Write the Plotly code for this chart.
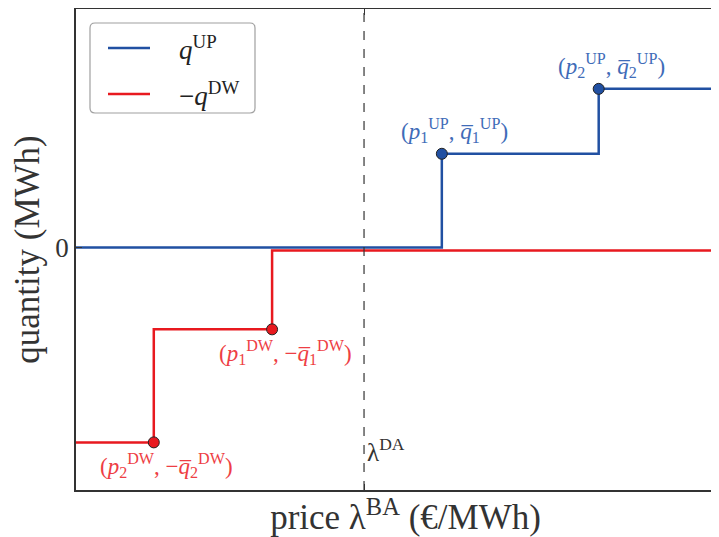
import plotly.graph_objects as go

# ---- data ----
x_range = [0.0, 10.25]
y_range = [-5.04, 4.96]
lambda_da = 4.48
prices_up = [5.69, 8.13]        # p1UP, p2UP
quantities_up = [1.95, 3.30]    # q1UP, q2UP
prices_dw = [3.05, 1.21]        # p1DW, p2DW
quantities_dw = [1.70, 4.05]    # q1DW, q2DW
dw_zero = -0.06
series_names = ["<i>q</i><sup>UP</sup>", "−<i>q</i><sup>DW</sup>"]
labels_up = ["(<i>p</i><sub>1</sub><sup>UP</sup>, <i>q̅</i><sub>1</sub><sup>UP</sup>)",
             "(<i>p</i><sub>2</sub><sup>UP</sup>, <i>q̅</i><sub>2</sub><sup>UP</sup>)"]
labels_dw = ["(<i>p</i><sub>1</sub><sup>DW</sup>, −<i>q̅</i><sub>1</sub><sup>DW</sup>)",
             "(<i>p</i><sub>2</sub><sup>DW</sup>, −<i>q̅</i><sub>2</sub><sup>DW</sup>)"]

BLUE = "#2150a2"
BLUE_T = "#3f6cb8"
RED = "#e8191f"
RED_T = "#ee3e44"
AX = "#333333"
FONT = "Liberation Serif"

fig = go.Figure()

# step curves
fig.add_trace(go.Scatter(
    x=[x_range[0], prices_up[0], prices_up[1], x_range[1]],
    y=[0, quantities_up[0], quantities_up[1], quantities_up[1]],
    mode="lines", line=dict(color=BLUE, width=2.5, shape="hv"),
    name=series_names[0], showlegend=False))
fig.add_trace(go.Scatter(
    x=[x_range[0], prices_dw[1], prices_dw[0], x_range[1]],
    y=[-quantities_dw[1], -quantities_dw[0], dw_zero, dw_zero],
    mode="lines", line=dict(color=RED, width=2.5, shape="hv"),
    name=series_names[1], showlegend=False))

# markers
fig.add_trace(go.Scatter(x=prices_up, y=quantities_up, mode="markers",
                         marker=dict(color=BLUE, size=11, line=dict(color="#222", width=1)),
                         showlegend=False))
fig.add_trace(go.Scatter(x=prices_dw, y=[-q for q in quantities_dw], mode="markers",
                         marker=dict(color=RED, size=11, line=dict(color="#222", width=1)),
                         showlegend=False))

# lambda DA line
fig.add_shape(type="line", x0=lambda_da, x1=lambda_da, y0=0, y1=1, yref="paper",
              line=dict(color=AX, width=1.2, dash="dash"))
fig.add_annotation(x=lambda_da, y=y_range[0], text="λ<sup>DA</sup>", showarrow=False,
                   xanchor="left", yanchor="bottom", xshift=1, yshift=22,
                   font=dict(family=FONT, size=25, color=AX))

for px, q, t in zip(prices_up, quantities_up, labels_up):
    fig.add_annotation(x=px, y=q, text=t, showarrow=False, xanchor="center",
                       yanchor="bottom", xshift=13, yshift=6,
                       font=dict(family=FONT, size=23, color=BLUE_T))
for px, q, t in zip(prices_dw, quantities_dw, labels_dw):
    fig.add_annotation(x=px, y=-q, text=t, showarrow=False, xanchor="center",
                       yanchor="top", xshift=13, yshift=-6,
                       font=dict(family=FONT, size=23, color=RED_T))

# ---- legend box (drawn in pixels from the plot's top-left corner) ----
r = 5
x0, x1, y0, y1 = 14, 179, -104, -14
path = (f"M{x0+r},{y0} L{x1-r},{y0} Q{x1},{y0} {x1},{y0+r} L{x1},{y1-r} "
        f"Q{x1},{y1} {x1-r},{y1} L{x0+r},{y1} Q{x0},{y1} {x0},{y1-r} "
        f"L{x0},{y0+r} Q{x0},{y0} {x0+r},{y0} Z")
fig.add_shape(type="path", path=path, xref="paper", yref="paper",
              xsizemode="pixel", ysizemode="pixel", xanchor=0, yanchor=1,
              fillcolor="white", line=dict(color="#a0a0a0", width=1.2), layer="above")
for color, dy, name in zip([BLUE, RED], [-39, -85], series_names):
    fig.add_shape(type="line", xref="paper", yref="paper",
                  xsizemode="pixel", ysizemode="pixel", xanchor=0, yanchor=1,
                  x0=32, x1=74, y0=dy, y1=dy, line=dict(color=color, width=2.5),
                  layer="above")
    fig.add_annotation(xref="paper", yref="paper", x=0, y=1, xshift=101, yshift=dy,
                       text=name, showarrow=False, xanchor="left", yanchor="middle",
                       font=dict(family=FONT, size=27, color="#222"))

fig.update_layout(
    width=727, height=537,
    margin=dict(l=68, r=0, t=1, b=55),
    plot_bgcolor="white", paper_bgcolor="white",
    font=dict(family=FONT, color=AX),
    showlegend=False,
    xaxis=dict(range=x_range, showgrid=False, zeroline=False, showline=True,
               linecolor=AX, linewidth=1.5, mirror="allticks", automargin=False,
               tickvals=[lambda_da], ticks="inside", ticklen=6, tickcolor=AX,
               showticklabels=False,
               title=dict(text="price λ<sup>BA</sup> (€/MWh)", standoff=14,
                          font=dict(family=FONT, size=35, color=AX))),
    yaxis=dict(range=y_range, showgrid=False, zeroline=False, showline=True,
               linecolor=AX, linewidth=1.5, mirror=False, automargin=False,
               tickvals=[0], ticktext=["0"], ticks="inside", ticklen=6, tickcolor=AX,
               tickfont=dict(family=FONT, size=27, color=AX),
               title=dict(text="quantity (MWh)", standoff=10,
                          font=dict(family=FONT, size=35, color=AX))),
)

fig.write_html("out.html",
               post_script="document.body.style.overflow='hidden';")
